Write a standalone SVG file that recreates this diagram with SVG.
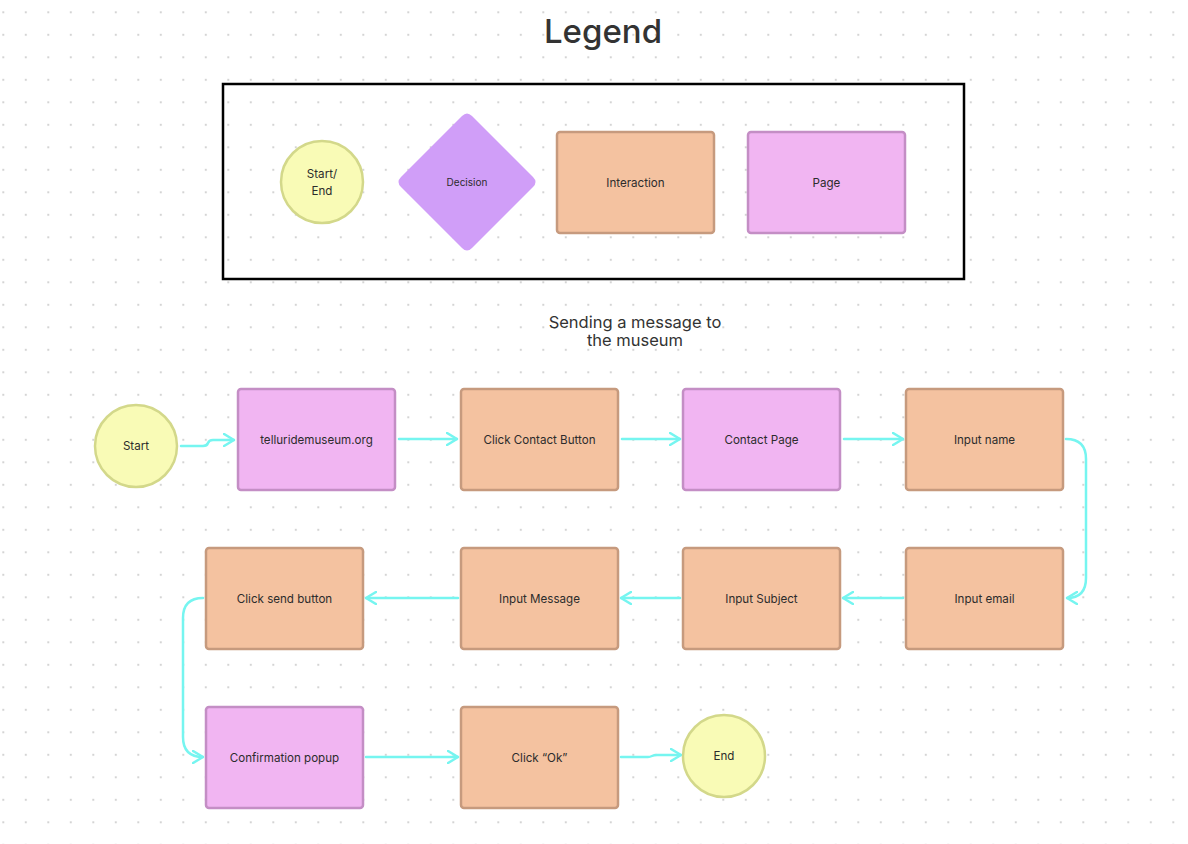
<svg xmlns="http://www.w3.org/2000/svg" width="1188" height="844" viewBox="0 0 1188 844">
<defs>
<pattern id="dots" x="2.3" y="11.3" width="22.5" height="22.5" patternUnits="userSpaceOnUse">
<rect x="0" y="0" width="2" height="2" fill="#d4d4d4"/>
</pattern>
<marker id="arr" viewBox="0 0 12 14" refX="11" refY="7" markerWidth="12" markerHeight="14" markerUnits="userSpaceOnUse" orient="auto">
<path d="M1,1 L11,7 L1,13" fill="none" stroke="#76F5F0" stroke-width="2.5" stroke-linecap="round" stroke-linejoin="round"/>
</marker>
<style>
text{font-family:Inter,"Noto Sans","Liberation Sans",sans-serif;fill:#2c2c2c;text-anchor:middle;dominant-baseline:central}
.lbl{font-size:11.6px}
.se{fill:#F9FBB6;stroke:#D3D88A;stroke-width:2.5}
.act{fill:#F4C2A0;stroke:#C69A7E;stroke-width:2.5}
.page{fill:#F1B5F2;stroke:#C48EC5;stroke-width:2.5}
.dec{fill:#D09EF8}
.conn path{fill:none;stroke:#76F5F0;stroke-width:2.5;stroke-linecap:round;stroke-linejoin:round}
</style>
</defs>
<rect width="1188" height="844" fill="#ffffff"/>
<rect width="1188" height="844" fill="url(#dots)"/>

<g id="legend-title"><text x="603" y="31" style="font-size:33px;font-weight:500;fill:#333">Legend</text></g>
<g id="legend-box"><rect x="223" y="84" width="741" height="195" fill="none" stroke="#000" stroke-width="2.5"/></g>
<g id="legend-startend"><circle cx="322" cy="182" r="41" class="se"/><text class="lbl" x="322" y="174">Start/</text><text class="lbl" x="322" y="191">End</text></g>
<g id="legend-decision"><path d="M462,116 Q467,111 472,116 L533,177 Q538,182 533,187 L472,248 Q467,253 462,248 L401,187 Q396,182 401,177 Z" class="dec"/><text x="467" y="182" style="font-size:10px">Decision</text></g>
<g id="legend-interaction"><rect x="557" y="132" width="157" height="101" rx="3" class="act"/><text class="lbl" x="635.5" y="182.5">Interaction</text></g>
<g id="legend-page"><rect x="748" y="132" width="157" height="101" rx="3" class="page"/><text class="lbl" x="826.5" y="182.5">Page</text></g>

<g id="flow-title"><text x="635" y="321.5" style="font-size:16.5px;fill:#333">Sending a message to</text><text x="635" y="339.5" style="font-size:16.5px;fill:#333">the museum</text></g>

<g class="conn" id="connectors">
<path d="M181,446 L203,446 Q207,446 208,443 Q209,440 213,440 L234,440" marker-end="url(#arr)"/>
<path d="M399,439 L457,439" marker-end="url(#arr)"/>
<path d="M622,439 L680,439" marker-end="url(#arr)"/>
<path d="M844,439 L903,439" marker-end="url(#arr)"/>
<path d="M1066,439 Q1086,439 1086,459 L1086,578 Q1086,598 1067,598" marker-end="url(#arr)"/>
<path d="M903,598 L843,598" marker-end="url(#arr)"/>
<path d="M680,598 L621,598" marker-end="url(#arr)"/>
<path d="M458,598 L366,598" marker-end="url(#arr)"/>
<path d="M203,598 Q183,598 183,618 L183,737 Q183,757 203,757" marker-end="url(#arr)"/>
<path d="M366,757 L458,757" marker-end="url(#arr)"/>
<path d="M621,757 L648,757 Q650,757 652,756 Q654,755 657,755 L681,755" marker-end="url(#arr)"/>
</g>

<g id="start"><circle cx="136" cy="446" r="41" class="se"/><text class="lbl" x="136" y="446">Start</text></g>
<g id="telluride"><rect x="238" y="389" width="157" height="101" rx="3" class="page"/><text class="lbl" x="316.5" y="439.5">telluridemuseum.org</text></g>
<g id="click-contact"><rect x="461" y="389" width="157" height="101" rx="3" class="act"/><text class="lbl" x="539.5" y="439.5">Click Contact Button</text></g>
<g id="contact-page"><rect x="683" y="389" width="157" height="101" rx="3" class="page"/><text class="lbl" x="761.5" y="439.5">Contact Page</text></g>
<g id="input-name"><rect x="906" y="389" width="157" height="101" rx="3" class="act"/><text class="lbl" x="984.5" y="439.5">Input name</text></g>

<g id="click-send"><rect x="206" y="548" width="157" height="101" rx="3" class="act"/><text class="lbl" x="284.5" y="598.5">Click send button</text></g>
<g id="input-message"><rect x="461" y="548" width="157" height="101" rx="3" class="act"/><text class="lbl" x="539.5" y="598.5">Input Message</text></g>
<g id="input-subject"><rect x="683" y="548" width="157" height="101" rx="3" class="act"/><text class="lbl" x="761.5" y="598.5">Input Subject</text></g>
<g id="input-email"><rect x="906" y="548" width="157" height="101" rx="3" class="act"/><text class="lbl" x="984.5" y="598.5">Input email</text></g>

<g id="confirmation"><rect x="206" y="707" width="157" height="101" rx="3" class="page"/><text class="lbl" x="284.5" y="757.5">Confirmation popup</text></g>
<g id="click-ok"><rect x="461" y="707" width="157" height="101" rx="3" class="act"/><text class="lbl" x="539.5" y="757.5">Click “Ok”</text></g>
<g id="end"><circle cx="724" cy="756" r="41" class="se"/><text class="lbl" x="724" y="756">End</text></g>
</svg>
